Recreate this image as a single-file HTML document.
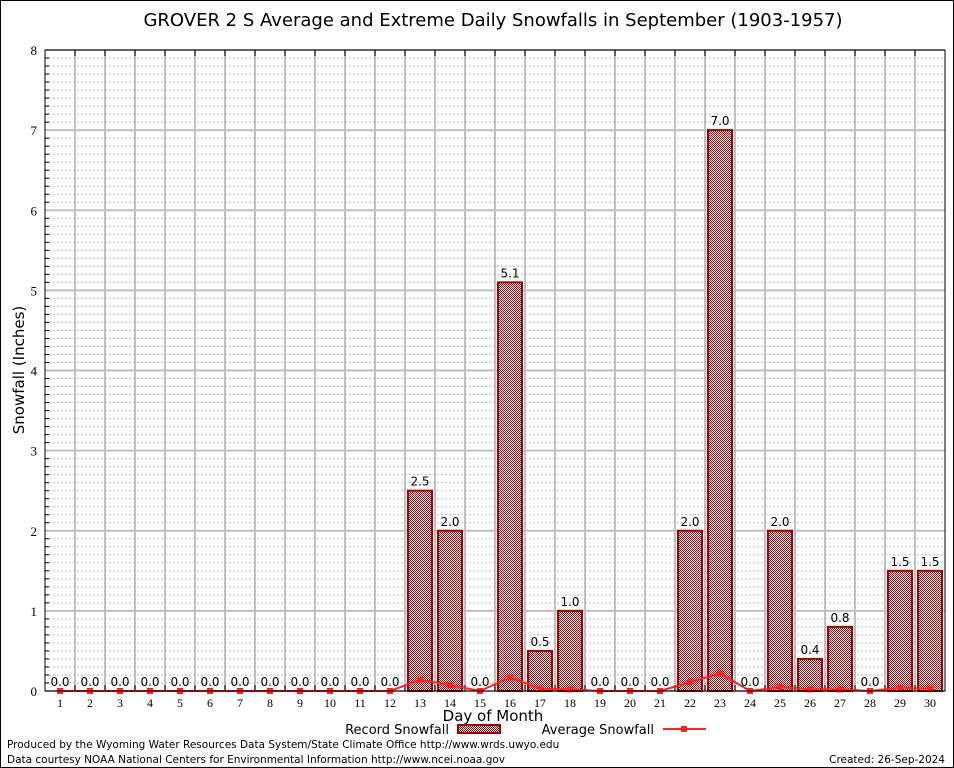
<!DOCTYPE html>
<html><head><meta charset="utf-8"><style>
body{margin:0;background:#fff;}
svg{display:block;font-family:"DejaVu Sans",sans-serif;}
</style></head><body>
<svg id="c" width="954" height="768" viewBox="0 0 954 768">
<defs>
<pattern id="chk" width="2" height="2" patternUnits="userSpaceOnUse">
<rect width="2" height="2" fill="#fff"/><rect width="1" height="1" fill="#b00000"/><rect x="1" y="1" width="1" height="1" fill="#b00000"/>
</pattern>
</defs>
<rect x="0.5" y="0.5" width="953" height="767" fill="#fff" stroke="#000"/>
<text x="493" y="26" font-size="18" text-anchor="middle">GROVER 2 S Average and Extreme Daily Snowfalls in September (1903-1957)</text>
<g id="grid"></g>
<g id="bars"></g>
<g id="line"></g>
<text transform="translate(24,370) rotate(-90)" font-size="15" text-anchor="middle">Snowfall (Inches)</text>
<text x="493" y="721" font-size="15" text-anchor="middle">Day of Month</text>
<g>
<text x="449" y="734" font-size="13" text-anchor="end">Record Snowfall</text>
<rect x="458" y="725" width="42" height="8" fill="url(#chk)" stroke="#a00000" stroke-width="2"/>
</g>
<g>
<text x="654" y="734" font-size="13" text-anchor="end">Average Snowfall</text>
<line x1="663" y1="729" x2="706" y2="729" stroke="#ff2020" stroke-width="2"/>
<rect x="681" y="726" width="6" height="6" fill="#ff2020"/>
</g>
<text x="7" y="748" font-size="10.5">Produced by the Wyoming Water Resources Data System/State Climate Office http://www.wrds.uwyo.edu</text>
<text x="7" y="763" font-size="10.5">Data courtesy NOAA National Centers for Environmental Information http://www.ncei.noaa.gov</text>
<text x="945" y="763" font-size="10.5" text-anchor="end">Created: 26-Sep-2024</text>
<rect x="45" y="50" width="900" height="641" fill="none" stroke="#000"/>
</svg>
<script>
const days=[1,2,3,4,5,6,7,8,9,10,11,12,13,14,15,16,17,18,19,20,21,22,23,24,25,26,27,28,29,30];
const recordVals=[0,0,0,0,0,0,0,0,0,0,0,0,2.5,2.0,0,5.1,0.5,1.0,0,0,0,2.0,7.0,0,2.0,0.4,0.8,0,1.5,1.5];
const avgVals=[0,0,0,0,0,0,0,0,0,0,0,0,0.14,0.075,0,0.17,0.03,0.02,0,0,0,0.11,0.22,0,0.05,0.02,0.02,0,0.04,0.03];
const yTicks=[0,1,2,3,4,5,6,7,8];
const L=45,R=945,T=50,B=691,YMAX=8;
const NS="http://www.w3.org/2000/svg";
const xs=d=>L+(d-0.5)*(R-L)/days.length;
const ys=v=>B-v*(B-T)/YMAX;
function mk(tag,attrs,parent,txt){const e=document.createElementNS(NS,tag);for(const k in attrs)e.setAttribute(k,attrs[k]);if(txt!==undefined)e.textContent=txt;parent.appendChild(e);return e;}
const grid=document.getElementById('grid'),bars=document.getElementById('bars'),line=document.getElementById('line');
for(let v=0.1;v<YMAX;v+=0.1){if(Math.abs(v-Math.round(v))<0.01)continue;
const g=mk('line',{x1:L,x2:R,y1:ys(v),y2:ys(v),stroke:'#bbb','stroke-dasharray':'2,2'},grid);

mk('line',{x1:L,x2:L+4,y1:ys(v),y2:ys(v),stroke:'#000'},grid);}
yTicks.forEach(v=>{const g=mk('line',{x1:L,x2:R,y1:ys(v),y2:ys(v),stroke:'#c0c0c0','stroke-width':2},grid);

const t=mk('text',{x:L-8,y:ys(v)+5,'font-size':13,'text-anchor':'end','font-family':'Liberation Serif, serif'},grid,String(v));
});
days.forEach((d,i)=>{if(i>0){const g=mk('line',{x1:xs(d)-15,x2:xs(d)-15,y1:T,y2:B,stroke:'#c0c0c0','stroke-width':2},grid);

mk('line',{x1:xs(d)-15,x2:xs(d)-15,y1:T,y2:T+6,stroke:'#000'},grid);mk('line',{x1:xs(d)-15,x2:xs(d)-15,y1:B,y2:B-6,stroke:'#000'},grid);}
const t=mk('text',{x:xs(d),y:B+16,'font-size':12,'text-anchor':'middle','font-family':'Liberation Serif, serif'},grid,String(d));

const v=recordVals[i];
if(v>0){const r=mk('rect',{x:xs(d)-12,y:ys(v),width:24,height:B-ys(v),fill:'url(#chk)',stroke:'#a00000','stroke-width':2},bars);
}
const l=mk('text',{x:xs(d),y:ys(v)-5,'font-size':12,'text-anchor':'middle'},bars,v.toFixed(1));
});
const pts=days.map((d,i)=>xs(d)+','+ys(avgVals[i])).join(' ');
const pl=mk('polyline',{points:pts,fill:'none',stroke:'#ff2020','stroke-width':2},line);

days.forEach((d,i)=>{const p=mk('rect',{x:xs(d)-3,y:ys(avgVals[i])-3,width:6,height:6,fill:'#ff2020'},line);
});
</script>
</body></html>
